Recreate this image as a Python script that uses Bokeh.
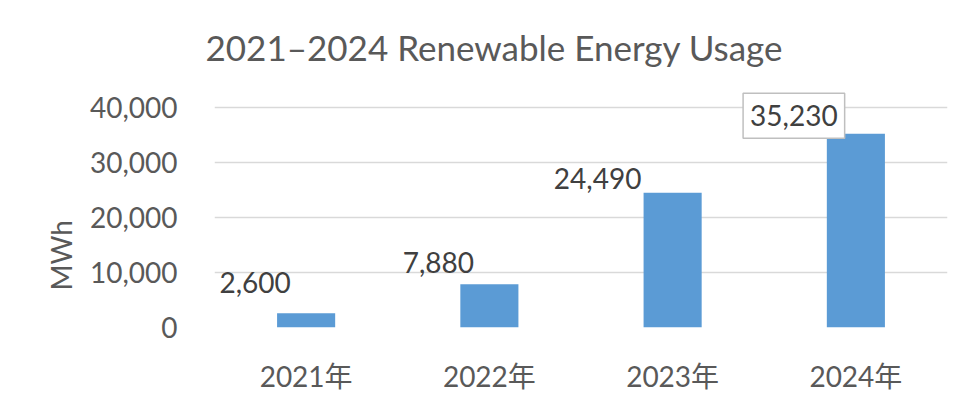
from bokeh.plotting import figure
from bokeh.models import (ColumnDataSource, FactorRange, Range1d, FixedTicker,
                          NumeralTickFormatter, LabelSet, Label, Title)
from bokeh.core.properties import value
from bokeh.embed import file_html
from bokeh.resources import INLINE

# ---- data ----
years = ["2021年", "2022年", "2023年", "2024年"]
usage_mwh = [2600, 7880, 24490, 35230]
y_ticks = [0, 10000, 20000, 30000, 40000]
highlighted = [False, False, False, True]

# ---- label placement (style, screen px) ----
label_dx = [-51, -51, -75, -62]
label_dy = [31, 22, 14, 18]

FONT = "Lato"
AXFONT = "Lato, 'Noto Sans CJK SC'"
GREY = "#595959"

p = figure(x_range=FactorRange(factors=years, range_padding=0),
           y_range=Range1d(0, 44000),
           width=948, height=402, output_backend="svg", toolbar_location=None,
           min_border_left=214, min_border_right=1, min_border_top=85,
           min_border_bottom=75)
p.title = None
title = Title(text="2021\u20132024 Renewable Energy Usage", align="left",
              offset=-9, text_font=FONT, text_font_size="35px",
              text_color=GREY, text_font_style="normal", standoff=35)
p.add_layout(title, "above")

ylab = Title(text="MWh", align="left", offset=37, text_font=FONT,
             text_font_size="28px", text_color=GREY, text_font_style="normal",
             standoff=18)
p.add_layout(ylab, "left")

src = ColumnDataSource(dict(year=years, val=usage_mwh))
p.vbar(x="year", top="val", width=0.317, source=src,
       fill_color="#5B9BD5", line_color=None)

plain = [i for i in range(len(years)) if not highlighted[i]]
boxed = [i for i in range(len(years)) if highlighted[i]]

plain_src = ColumnDataSource(dict(
    year=[years[i] for i in plain], val=[usage_mwh[i] for i in plain],
    text=[f"{usage_mwh[i]:,}" for i in plain],
    dx=[label_dx[i] for i in plain], dy=[label_dy[i] for i in plain]))

p.add_layout(LabelSet(x="year", y="val", text="text", source=plain_src,
                      x_offset="dx", y_offset="dy", text_align="center",
                      text_baseline="middle", text_font=value(FONT),
                      text_font_size="28px", text_color="#404040"))
for i in boxed:
    # FactorRange places factor i at synthetic coordinate i + 0.5
    p.add_layout(Label(x=i + 0.5, y=usage_mwh[i], text=f"{usage_mwh[i]:,}",
                       x_offset=label_dx[i], y_offset=label_dy[i],
                       text_align="center", text_baseline="middle",
                       text_font=FONT, text_font_size="28px", text_color="#404040",
                       background_fill_color="white", border_line_color="#BFBFBF",
                       border_line_width=1.5,
                       padding=dict(left=7, right=7, top=12, bottom=12)))

p.yaxis.ticker = FixedTicker(ticks=y_ticks)
p.yaxis.formatter = NumeralTickFormatter(format="0,0")
for ax in (p.xaxis, p.yaxis):
    ax.axis_line_color = None
    ax.major_tick_line_color = None
    ax.minor_tick_line_color = None
    ax.major_label_text_font = AXFONT
    ax.major_label_text_font_size = "28px"
    ax.major_label_text_color = GREY
p.yaxis.major_label_standoff = 31
p.xaxis.major_label_standoff = 25

p.xgrid.grid_line_color = None
p.ygrid.grid_line_color = "#D9D9D9"
p.ygrid.grid_line_width = 1.3
p.outline_line_color = None
p.background_fill_color = "white"
p.border_fill_color = "white"

open("out.html", "w").write(file_html(p, INLINE))
